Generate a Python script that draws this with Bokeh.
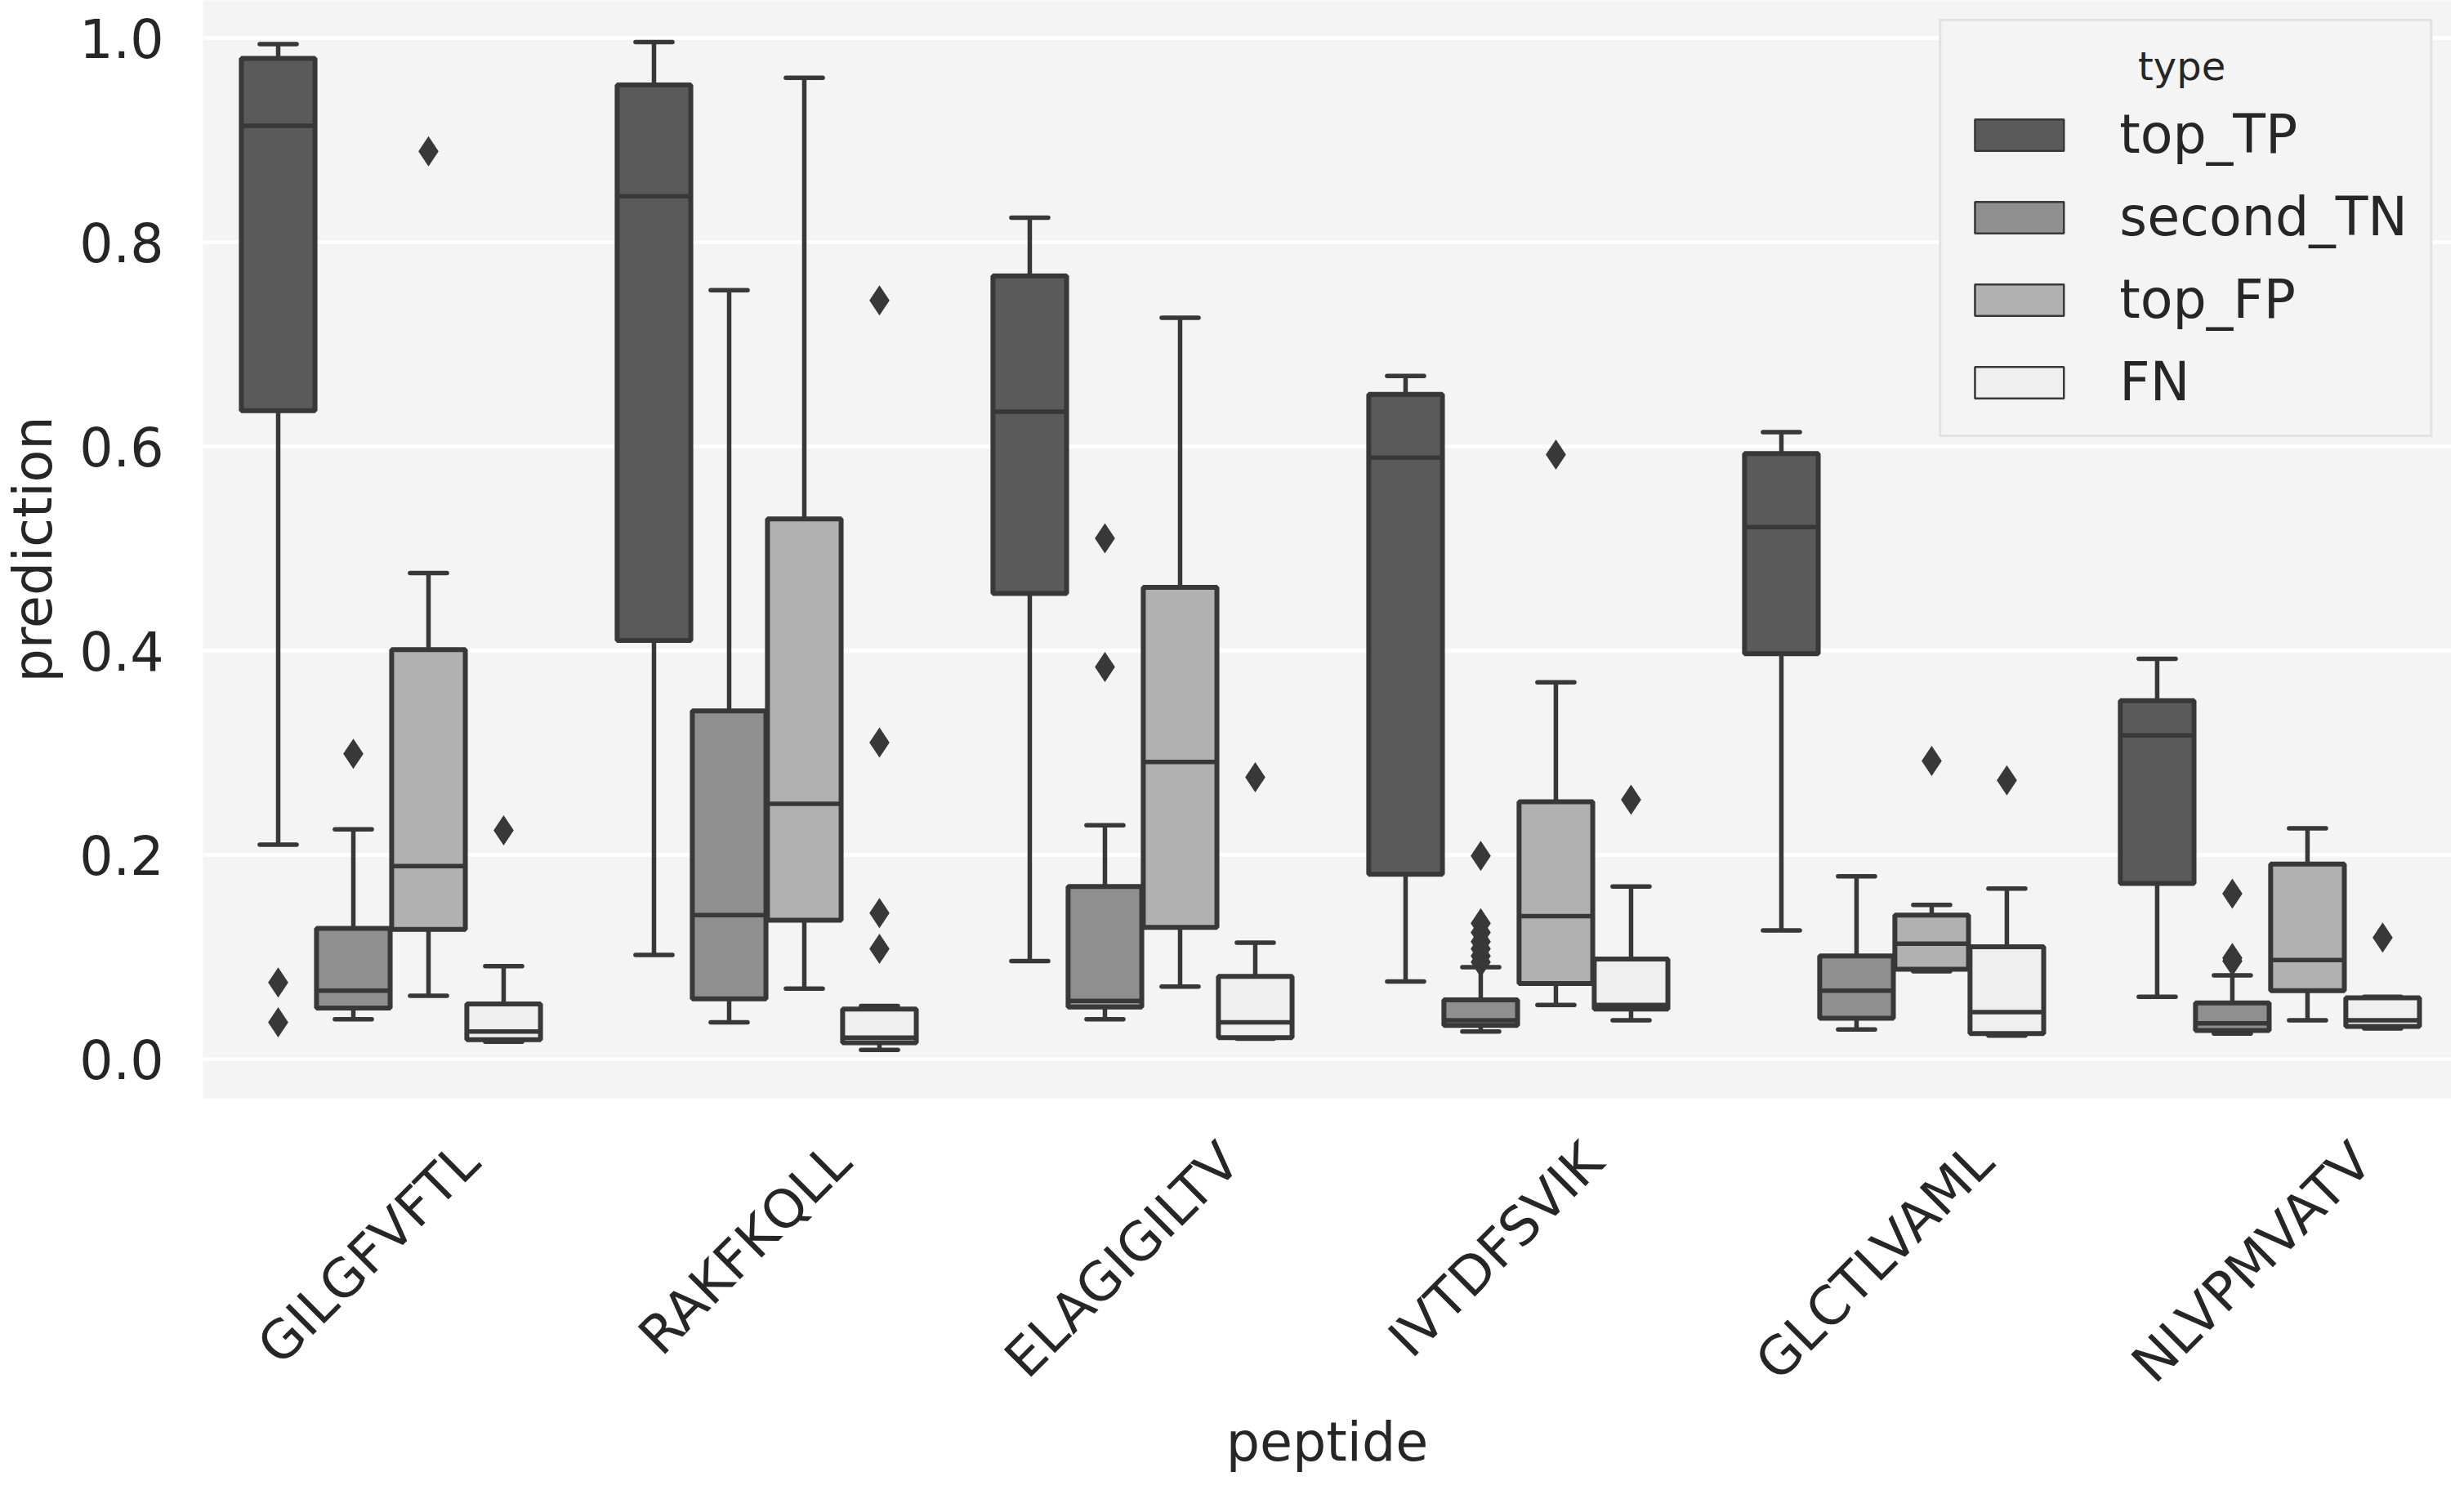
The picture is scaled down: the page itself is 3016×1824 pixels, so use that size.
import math
from bokeh.plotting import figure
from bokeh.models import (ColumnDataSource, Range1d, FixedTicker, Legend, LegendItem,
                          NumeralTickFormatter)
from bokeh.embed import file_html
from bokeh.resources import INLINE

# ---------------- data ----------------
peptides = ["GILGFVFTL", "RAKFKQLL", "ELAGIGILTV", "IVTDFSVIK", "GLCTLVAML", "NLVPMVATV"]
types = ["top_TP", "second_TN", "top_FP", "FN"]

tp_low = [0.210, 0.102, 0.096, 0.076, 0.126, 0.061]
tp_q1 = [0.635, 0.410, 0.456, 0.181, 0.397, 0.172]
tp_med = [0.914, 0.845, 0.634, 0.589, 0.521, 0.317]
tp_q3 = [0.980, 0.954, 0.767, 0.651, 0.593, 0.351]
tp_high = [0.994, 0.996, 0.824, 0.669, 0.614, 0.392]
tp_out = [[0.075, 0.036], [], [], [], [], []]

tn_low = [0.039, 0.036, 0.039, 0.027, 0.029, 0.025]
tn_q1 = [0.050, 0.059, 0.051, 0.033, 0.040, 0.028]
tn_med = [0.067, 0.141, 0.057, 0.038, 0.067, 0.035]
tn_q3 = [0.128, 0.341, 0.169, 0.058, 0.101, 0.055]
tn_high = [0.225, 0.753, 0.229, 0.090, 0.179, 0.082]
tn_out = [[0.299], [], [0.510, 0.384],
          [0.199, 0.133, 0.124, 0.115, 0.108, 0.101, 0.095], [], [0.162, 0.099, 0.096]]

fp_low = [0.062, 0.069, 0.071, 0.053, 0.086, 0.038]
fp_q1 = [0.127, 0.136, 0.129, 0.074, 0.088, 0.067]
fp_med = [0.189, 0.250, 0.291, 0.140, 0.113, 0.097]
fp_q3 = [0.401, 0.529, 0.462, 0.252, 0.141, 0.191]
fp_high = [0.476, 0.961, 0.726, 0.369, 0.151, 0.226]
fp_out = [[0.889], [], [], [0.592], [0.292], []]

fn_low = [0.017, 0.009, 0.020, 0.038, 0.023, 0.030]
fn_q1 = [0.019, 0.016, 0.021, 0.049, 0.025, 0.032]
fn_med = [0.027, 0.021, 0.036, 0.053, 0.046, 0.038]
fn_q3 = [0.054, 0.049, 0.081, 0.098, 0.110, 0.060]
fn_high = [0.091, 0.052, 0.114, 0.169, 0.167, 0.061]
fn_out = [[0.224], [0.743, 0.310, 0.143, 0.108], [0.276], [0.254], [0.273], [0.119]]

y_ticks = [0.0, 0.2, 0.4, 0.6, 0.8, 1.0]

stats = {
    "top_TP": (tp_low, tp_q1, tp_med, tp_q3, tp_high, tp_out),
    "second_TN": (tn_low, tn_q1, tn_med, tn_q3, tn_high, tn_out),
    "top_FP": (fp_low, fp_q1, fp_med, fp_q3, fp_high, fp_out),
    "FN": (fn_low, fn_q1, fn_med, fn_q3, fn_high, fn_out),
}

# ---------------- style ----------------
fills = {"top_TP": "#5a5a5a", "second_TN": "#8f8f8f", "top_FP": "#b1b1b1", "FN": "#efefef"}
LINE = "#383838"
TEXT = "#262626"
BG = "#f4f4f4"
FONT = "DejaVu Sans"
FS = 65
box_w = 0.196
cap_w = 0.098
hue_off = [-0.3, -0.1, 0.1, 0.3]

W, H = 3000, 1808
ML, MB = 223, 464
frame_w = W - ML
x_start = -0.5
x_end = -0.5 + 6 * frame_w / 2785.0

p = figure(width=W, height=H, output_backend="svg", toolbar_location=None,
           x_range=Range1d(x_start, x_end), y_range=Range1d(-0.0384, 1.0368),
           min_border_left=ML, min_border_right=0, min_border_top=0, min_border_bottom=MB)
p.background_fill_color = BG
p.border_fill_color = "white"
p.outline_line_color = None

for j, t in enumerate(types):
    lo, q1, med, q3, hi, outs = stats[t]
    xs = [i + hue_off[j] for i in range(len(peptides))]
    src = ColumnDataSource(dict(
        x=xs, lo=lo, q1=q1, med=med, q3=q3, hi=hi,
        xl=[x - box_w / 2 for x in xs], xr=[x + box_w / 2 for x in xs],
        cl=[x - cap_w / 2 for x in xs], cr=[x + cap_w / 2 for x in xs]))
    # whiskers
    p.segment(x0="x", y0="q3", x1="x", y1="hi", source=src, line_color=LINE, line_width=5.5)
    p.segment(x0="x", y0="q1", x1="x", y1="lo", source=src, line_color=LINE, line_width=5.5)
    # caps
    p.segment(x0="cl", y0="hi", x1="cr", y1="hi", source=src, line_color=LINE, line_width=5.5,
              line_cap="round")
    p.segment(x0="cl", y0="lo", x1="cr", y1="lo", source=src, line_color=LINE, line_width=5.5,
              line_cap="round")
    # boxes
    p.vbar(x="x", width=box_w, top="q3", bottom="q1", source=src, fill_color=fills[t],
           line_color=LINE, line_width=6)
    # medians
    p.segment(x0="xl", y0="med", x1="xr", y1="med", source=src, line_color=LINE, line_width=5.5)
    # outliers
    ox, oy = [], []
    for i, vals in enumerate(outs):
        for v in vals:
            ox.append(i + hue_off[j])
            oy.append(v)
    p.scatter(x=ox, y=oy, marker="diamond", size=37, fill_color=LINE, line_color=None)

# legend (proxy renderers holding no visible data)
nan = float("nan")
items = []
for t in types:
    r = p.vbar(x=[nan], top=[nan], bottom=[nan], width=0.1, fill_color=fills[t],
               line_color=LINE, line_width=2.5)
    items.append(LegendItem(label=t, renderers=[r]))
legend = Legend(items=items, location="top_right", margin=23, padding=27,
                glyph_width=136, glyph_height=48, label_standoff=55, spacing=26,
                title="\u00a0" * 14 + "type", title_text_font=FONT, title_text_font_size="48px",
                title_text_color=TEXT, title_text_font_style="normal", title_standoff=18,
                label_text_font=FONT, label_text_font_size=f"{FS}px", label_text_color=TEXT,
                background_fill_color=BG, background_fill_alpha=1.0,
                border_line_color="#cfcfcf", border_line_width=3)
p.add_layout(legend)

# y axis
p.yaxis.ticker = FixedTicker(ticks=y_ticks)
p.yaxis.formatter = NumeralTickFormatter(format="0.0")
p.yaxis.axis_label = "prediction"
p.yaxis.axis_label_standoff = 16
p.yaxis.major_label_standoff = 48

# x axis: labels rotated 45 deg, centred on their group (shifted anchor)
DV = {'A': 0.684, 'C': 0.698, 'D': 0.770, 'E': 0.632, 'F': 0.575, 'G': 0.775, 'I': 0.295,
      'K': 0.656, 'L': 0.557, 'M': 0.863, 'N': 0.748, 'P': 0.603, 'Q': 0.787, 'R': 0.695,
      'S': 0.635, 'T': 0.611, 'V': 0.684}
px_per_unit = frame_w / (x_end - x_start)
x_ticks = []
overrides = {}
for i, name in enumerate(peptides):
    L = sum(DV.get(c, 0.65) for c in name) * FS
    tk = round(i + (L / (2 * math.sqrt(2)) - 27) / px_per_unit, 4)
    x_ticks.append(tk)
    overrides[tk] = name
p.xaxis.ticker = FixedTicker(ticks=x_ticks)
p.xaxis.major_label_overrides = overrides
p.xaxis.major_label_orientation = math.pi / 4
p.xaxis.major_label_standoff = 66
p.xaxis.axis_label = "peptide"
p.xaxis.axis_label_standoff = -8

for ax in (p.xaxis, p.yaxis):
    ax.axis_line_color = None
    ax.major_tick_line_color = None
    ax.minor_tick_line_color = None
    ax.major_tick_out = 0
    ax.major_tick_in = 0
    ax.minor_tick_out = 0
    ax.major_label_text_font = FONT
    ax.major_label_text_font_size = f"{FS}px"
    ax.major_label_text_color = TEXT
    ax.axis_label_text_font = FONT
    ax.axis_label_text_font_size = f"{FS}px"
    ax.axis_label_text_font_style = "normal"
    ax.axis_label_text_color = TEXT

p.xgrid.visible = False
p.ygrid.grid_line_color = "white"
p.ygrid.grid_line_width = 4.5

open("out.html", "w").write(file_html(p, INLINE))
